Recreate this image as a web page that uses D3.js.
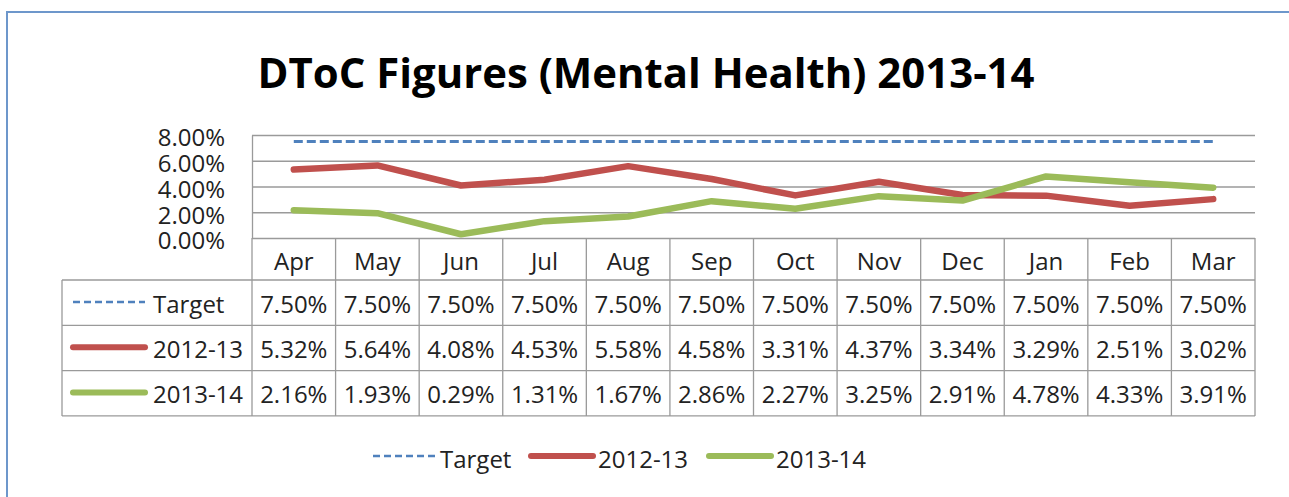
<!DOCTYPE html>
<html>
<head>
<meta charset="utf-8">
<script src="https://cdn.jsdelivr.net/npm/d3@7"></script>
<style>
  body { margin: 0; background: #fff; }
  svg { display: block; font-family: "Open Sans", sans-serif; }
</style>
</head>
<body>
<div id="chart"></div>
<script>
// chart data
var months = ["Apr", "May", "Jun", "Jul", "Aug", "Sep", "Oct", "Nov", "Dec", "Jan", "Feb", "Mar"];
var target = [0.075, 0.075, 0.075, 0.075, 0.075, 0.075, 0.075, 0.075, 0.075, 0.075, 0.075, 0.075];
var y2012 = [0.0532, 0.0564, 0.0408, 0.0453, 0.0558, 0.0458, 0.0331, 0.0437, 0.0334, 0.0329, 0.0251, 0.0302];
var y2013 = [0.0216, 0.0193, 0.0029, 0.0131, 0.0167, 0.0286, 0.0227, 0.0325, 0.0291, 0.0478, 0.0433, 0.0391];
var seriesNames = ["Target", "2012-13", "2013-14"];
var yTicks = [0, 0.02, 0.04, 0.06, 0.08];

var series = [
	{ name: seriesNames[0], values: target, color: "#4f81bd", width: 3, dash: "9,4", cap: "butt" },
	{ name: seriesNames[1], values: y2012, color: "#c0504d", width: 6.5, dash: null, cap: "round" },
	{ name: seriesNames[2], values: y2013, color: "#9bbb59", width: 6.5, dash: null, cap: "round" }
];

var W = 1289, H = 497;
var plot = { left: 252, right: 1255, top: 135, bottom: 238 };
var tableLeft = 62, headerBottom = 280, rowH = 45.3;
var fontSize = 24;
var gridColor = "#9a9a9a";

var svg = d3.select("#chart").append("svg")
	.attr("width", W)
	.attr("height", H);

// outer frame (only top and left edges visible)
svg.append("path")
	.attr("d", "M7," + H + " L7,12 L" + W + ",12")
	.attr("fill", "none")
	.attr("stroke", "#6d97cb")
	.attr("stroke-width", 2);

// title
var title = svg.append("text")
	.attr("x", 646)
	.attr("y", 88)
	.attr("text-anchor", "middle")
	.attr("font-size", 42)
	.attr("font-weight", 700)
	.attr("fill", "#000")
	.text("DToC Figures (Mental Health) 2013-14");
title.attr("textLength", 777).attr("lengthAdjust", "spacingAndGlyphs");

// scales
var x = d3.scaleBand()
	.domain(months)
	.range([plot.left, plot.right])
	.padding(0);

var y = d3.scaleLinear()
	.domain([0, 0.08])
	.range([plot.bottom, plot.top]);

// y axis with gridlines
var yAxis = d3.axisLeft(y)
	.tickValues(yTicks)
	.tickFormat(d3.format(".2%"))
	.tickSizeInner(-(plot.right - plot.left))
	.tickSizeOuter(0)
	.tickPadding(27);

var gy = svg.append("g")
	.attr("class", "y-axis")
	.attr("transform", "translate(" + plot.left + ",0)")
	.call(yAxis);
gy.select(".domain").attr("stroke", gridColor).attr("stroke-width", 1.3);
gy.selectAll(".tick line").attr("stroke", gridColor).attr("stroke-width", 1.3);
gy.selectAll(".tick text")
	.attr("font-family", "Open Sans, sans-serif")
	.attr("font-size", fontSize)
	.attr("fill", "#222")
	.attr("dy", "0.45em");

// lines
var line = d3.line()
	.x(function(d, i) { return x(months[i]) + x.bandwidth() / 2; })
	.y(function(d) { return y(d); });

svg.selectAll(".series")
	.data(series)
	.enter()
	.append("path")
	.attr("class", "series")
	.attr("d", function(d) { return line(d.values); })
	.attr("fill", "none")
	.attr("stroke", function(d) { return d.color; })
	.attr("stroke-width", function(d) { return d.width; })
	.attr("stroke-dasharray", function(d) { return d.dash; })
	.attr("stroke-linecap", function(d) { return d.cap; })
	.attr("stroke-linejoin", "round");

// data table
var table = svg.append("g").attr("class", "table");
var tableBottom = headerBottom + rowH * series.length;

// vertical column lines
var colEdges = months.map(function(m) { return x(m); }).concat([plot.right]);
table.selectAll(".vline")
	.data(colEdges)
	.enter()
	.append("line")
	.attr("x1", function(d) { return d; })
	.attr("x2", function(d) { return d; })
	.attr("y1", plot.bottom)
	.attr("y2", tableBottom)
	.attr("stroke", gridColor)
	.attr("stroke-width", 1.3);

// left edge of label column
table.append("line")
	.attr("x1", tableLeft).attr("x2", tableLeft)
	.attr("y1", headerBottom).attr("y2", tableBottom)
	.attr("stroke", gridColor).attr("stroke-width", 1.3);

// horizontal row lines
var rowEdges = d3.range(series.length + 1).map(function(i) { return headerBottom + i * rowH; });
table.selectAll(".hline")
	.data(rowEdges)
	.enter()
	.append("line")
	.attr("x1", tableLeft)
	.attr("x2", plot.right)
	.attr("y1", function(d) { return d; })
	.attr("y2", function(d) { return d; })
	.attr("stroke", gridColor)
	.attr("stroke-width", 1.3);

// header month labels
table.selectAll(".month")
	.data(months)
	.enter()
	.append("text")
	.attr("x", function(d) { return x(d) + x.bandwidth() / 2; })
	.attr("y", plot.bottom + 32)
	.attr("text-anchor", "middle")
	.attr("font-size", fontSize)
	.attr("fill", "#222")
	.text(function(d) { return d; });

var pct = d3.format(".2%");

var rows = table.selectAll(".row")
	.data(series)
	.enter()
	.append("g")
	.attr("class", "row")
	.attr("transform", function(d, i) { return "translate(0," + (headerBottom + i * rowH) + ")"; });

rows.append("line")
	.attr("x1", 73)
	.attr("x2", 145)
	.attr("y1", 22)
	.attr("y2", 22)
	.attr("stroke", function(d) { return d.color; })
	.attr("stroke-width", function(d) { return d.dash ? 2.5 : 6; })
	.attr("stroke-dasharray", function(d) { return d.dash ? "7,4" : null; })
	.attr("stroke-linecap", function(d) { return d.cap; });

rows.append("text")
	.attr("x", 153)
	.attr("y", 32.5)
	.attr("font-size", fontSize)
	.attr("fill", "#222")
	.text(function(d) { return d.name; });

rows.selectAll(".cell")
	.data(function(d) { return d.values; })
	.enter()
	.append("text")
	.attr("class", "cell")
	.attr("x", function(d, i) { return x(months[i]) + x.bandwidth() / 2; })
	.attr("y", 32.5)
	.attr("text-anchor", "middle")
	.attr("font-size", fontSize)
	.attr("fill", "#222")
	.text(function(d) { return pct(d); });

// bottom legend
var legend = svg.append("g").attr("class", "legend");
var legendX = [373, 531, 709];
var legendY = 456;

var items = legend.selectAll(".item")
	.data(series)
	.enter()
	.append("g")
	.attr("class", "item")
	.attr("transform", function(d, i) { return "translate(" + legendX[i] + "," + legendY + ")"; });

items.append("line")
	.attr("x1", 0)
	.attr("x2", 62)
	.attr("stroke", function(d) { return d.color; })
	.attr("stroke-width", function(d) { return d.dash ? 2.5 : 6; })
	.attr("stroke-dasharray", function(d) { return d.dash ? "7,4" : null; })
	.attr("stroke-linecap", function(d) { return d.cap; });

items.append("text")
	.attr("x", 67)
	.attr("y", 12)
	.attr("font-size", fontSize)
	.attr("fill", "#222")
	.text(function(d) { return d.name; });
</script>
</body>
</html>
